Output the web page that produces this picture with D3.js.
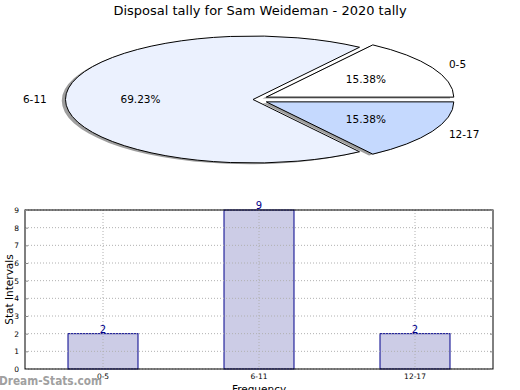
<!DOCTYPE html>
<html><head><meta charset="utf-8">
<script src="https://cdn.jsdelivr.net/npm/d3@7"></script>
<style>
body{margin:0;background:#fff;}
svg{display:block;font-family:"DejaVu Sans",sans-serif;}
</style></head>
<body><svg id="c" width="520" height="390"></svg>
<script>
const title = "Disposal tally for Sam Weideman - 2020 tally";
const categories = ["0-5", "6-11", "12-17"];
const values = [2, 9, 2];
const pieColors = ["#ffffff", "#ebf1fe", "#c5d9fe"];
const explode = [0.08, 0, 0.08];
const yTicks = [0,1,2,3,4,5,6,7,8,9];
const yLabel = "Stat Intervals";
const xLabel = "Frequency";
const watermark = "Dream-Stats.com";

const svg = d3.select("#c");

svg.append("text").attr("x", 260).attr("y", 15).attr("text-anchor", "middle")
  .attr("font-size", 13).attr("fill", "#000").text(title);

// ---- Pie (elliptical, matplotlib-style: counterclockwise from 3 o'clock) ----
const cx = 253, cy = 99.5, rx = 187.5, ry = 63.5;
const total = d3.sum(values);
const pie = d3.pie().sort(null).value(d => d)(values);
const arcGen = d3.arc().innerRadius(0).outerRadius(1);
const wedges = pie.map((p, i) => {
  const a1 = p.startAngle, a2 = p.endAngle; // mpl angles (ccw)
  const mid = (a1 + a2) / 2;
  const ox = explode[i] * rx * Math.cos(mid);
  const oy = -explode[i] * ry * Math.sin(mid);
  return {i, a1, a2, mid, ox, oy,
    d: arcGen({startAngle: Math.PI/2 - a2, endAngle: Math.PI/2 - a1})};
});
const pg = svg.append("g");
// shadows
wedges.forEach(w => {
  pg.append("g").attr("transform", `translate(${cx + w.ox - 0.02*rx},${cy + w.oy + 0.02*ry}) scale(${rx},${ry})`)
    .append("path").attr("d", w.d).attr("fill", "#000").attr("fill-opacity", 0.38).attr("stroke", "none");
});
wedges.forEach(w => {
  pg.append("g").attr("transform", `translate(${cx + w.ox},${cy + w.oy}) scale(${rx},${ry})`)
    .append("path").attr("d", w.d).attr("fill", pieColors[w.i])
    .attr("stroke", "#000").attr("stroke-width", 1).attr("vector-effect", "non-scaling-stroke")
    .attr("stroke-linejoin", "miter");
});
wedges.forEach(w => {
  const lx = cx + w.ox + 1.1 * rx * Math.cos(w.mid);
  const ly = cy + w.oy - 1.1 * ry * Math.sin(w.mid);
  svg.append("text").attr("x", lx).attr("y", ly).attr("dy", "0.35em")
    .attr("text-anchor", Math.cos(w.mid) > 0 ? "start" : "end")
    .attr("font-size", 10.5).text(categories[w.i]);
  const px = cx + w.ox + 0.6 * rx * Math.cos(w.mid);
  const py = cy + w.oy - 0.6 * ry * Math.sin(w.mid);
  svg.append("text").attr("x", px).attr("y", py).attr("dy", "0.35em")
    .attr("text-anchor", "middle").attr("font-size", 10.5)
    .text((values[w.i] / total * 100).toFixed(2) + "%");
});

// ---- Bar chart ----
const L = 25, R = 493, T = 210, B = 369;
const x = d3.scaleBand().domain(categories).range([L, R]).paddingInner(0).paddingOuter(0);
const y = d3.scaleLinear().domain([0, 9]).range([B, T]);
const barW = 70;
const bg = svg.append("g");
bg.selectAll("rect.bar").data(values).enter().append("rect")
  .attr("x", (d, i) => x(categories[i]) + x.bandwidth()/2 - barW/2)
  .attr("y", d => y(d)).attr("width", barW).attr("height", d => B - y(d))
  .attr("fill", "#cccce6").attr("stroke", "#00008b").attr("stroke-width", 1);
// grid
const grid = svg.append("g").attr("stroke", "#b0b0b0").attr("stroke-dasharray", "1,2").attr("stroke-width", 1);
yTicks.forEach(t => grid.append("line").attr("x1", L).attr("x2", R).attr("y1", y(t)).attr("y2", y(t)));
categories.forEach(c => grid.append("line").attr("x1", x(c) + x.bandwidth()/2).attr("x2", x(c) + x.bandwidth()/2).attr("y1", T).attr("y2", B));
// frame
svg.append("rect").attr("x", L).attr("y", T).attr("width", R - L).attr("height", B - T)
  .attr("fill", "none").attr("stroke", "#000").attr("stroke-width", 1);
// axes
const ya = svg.append("g").attr("transform", `translate(${L},0)`)
  .call(d3.axisLeft(y).tickValues(yTicks).tickSize(-3).tickPadding(6));
ya.select(".domain").remove();
ya.selectAll("text").attr("font-size", 7.5).attr("font-family", "DejaVu Sans").attr("fill", "#000");
ya.selectAll("line").attr("stroke", "#888");
const yr = svg.append("g").attr("transform", `translate(${R},0)`)
  .call(d3.axisRight(y).tickValues(yTicks).tickSize(-3).tickFormat(""));
yr.select(".domain").remove();
yr.selectAll("line").attr("stroke", "#888");
const xa = svg.append("g").attr("transform", `translate(0,${B})`)
  .call(d3.axisBottom(x).tickSize(0).tickPadding(5));
xa.select(".domain").remove();
xa.selectAll("text").attr("font-size", 7.5).attr("font-family", "DejaVu Sans").attr("fill", "#000");
// value labels
svg.selectAll("text.val").data(values).enter().append("text")
  .attr("x", (d, i) => x(categories[i]) + x.bandwidth()/2).attr("y", d => y(d) - 1)
  .attr("text-anchor", "middle").attr("font-size", 10).attr("fill", "#00008b").text(d => d);
svg.append("text").attr("transform", `translate(13,${(T+B)/2}) rotate(-90)`)
  .attr("text-anchor", "middle").attr("font-size", 10.5).text(yLabel);
svg.append("text").attr("x", (L+R)/2).attr("y", 393).attr("text-anchor", "middle")
  .attr("font-size", 10.5).text(xLabel);
svg.append("text").attr("x", -1).attr("y", 385).attr("font-size", 13).attr("font-weight", "bold")
  .attr("textLength", 103).attr("lengthAdjust", "spacingAndGlyphs")
  .attr("fill", "#a0a0a0").text(watermark);
</script></body></html>
